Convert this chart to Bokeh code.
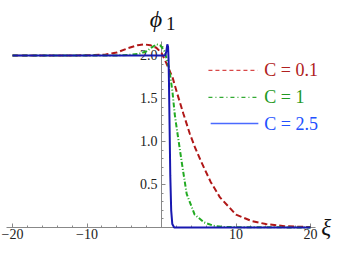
from bokeh.plotting import figure
from bokeh.models import LinearAxis, FixedTicker, Range1d
from bokeh.core.properties import value
from bokeh.embed import file_html
from bokeh.resources import INLINE

# ---- data ----
red_x = [-20, -12, -9, -7.5, -6, -4.5, -3.2, -2.4, -1.5, -0.7, 0, 0.6, 1.05, 1.5, 2.1,
         2.95, 3.8, 4.5, 5.3, 6.6, 7.85, 10.0, 12.1, 14.0, 16.5, 20]
red_y = [2.0, 2.0, 2.005, 2.012, 2.035, 2.085, 2.12, 2.13, 2.12, 2.09, 2.03, 1.92, 1.83,
         1.74, 1.56, 1.32, 1.09, 0.93, 0.77, 0.53, 0.35, 0.15, 0.075, 0.04, 0.015, 0.005]

green_x = [-20, -6, -4, -3, -2, -1.2, -0.66, -0.2, 0.1, 0.4, 0.7, 1.05, 1.47, 1.77, 2.1,
           2.75, 3.38, 4.45, 5.7, 7.0, 8.5, 20]
green_y = [2.0, 2.0, 2.01, 2.02, 2.05, 2.1, 2.13, 2.12, 2.09, 2.05, 1.96, 1.84, 1.58, 1.32,
           1.12, 0.74, 0.39, 0.15, 0.06, 0.02, 0.005, 0.0]

blue_x = [-20, 0.5, 0.65, 0.78, 0.88, 0.95, 1.0, 1.08, 1.18, 1.3, 1.45, 1.7, 20]
blue_y = [2.0, 2.0, 2.05, 2.13, 2.1, 1.95, 1.7, 1.2, 0.6, 0.2, 0.04, 0.0, 0.0]

legend_labels = ["C = 0.1", "C = 1", "C = 2.5"]

x_ticks = [-20, -10, 10, 20]
x_tick_labels = ["\u221220", "\u221210", "10", "20"]
x_minor = [v for v in range(-20, 21, 2) if v % 10 != 0]
y_ticks = [0.5, 1.0, 1.5, 2.0]
y_tick_labels = ["0.5", "1.0", "1.5", "2.0"]
y_minor = [round(0.1 * i, 1) for i in range(1, 22) if i % 5 != 0]

# ---- styles ----
RED, GREEN, BLUE = "#b01818", "#22aa22", "#1818b0"
SERIF = "Liberation Serif"

p = figure(width=338, height=241, x_range=Range1d(-21.611, 23.758),
           y_range=Range1d(-0.1628, 2.6395), output_backend="svg",
           toolbar_location=None, x_axis_location=None, y_axis_location=None,
           min_border=0, min_border_left=0, min_border_right=0,
           min_border_top=0, min_border_bottom=0)
p.outline_line_color = None
p.grid.visible = False
p.background_fill_color = "white"

def style_axis(ax):
    ax.axis_line_color = "#888888"
    ax.axis_line_width = 1
    ax.major_tick_line_color = "#888888"
    ax.minor_tick_line_color = "#888888"
    ax.major_tick_in = 4
    ax.major_tick_out = 0
    ax.minor_tick_in = 2
    ax.minor_tick_out = 0
    ax.major_label_text_font = SERIF
    ax.major_label_text_font_size = "14px"
    ax.major_label_text_color = "#222222"
    ax.level = "underlay"

xaxis = LinearAxis(fixed_location=0, bounds=(-20.8, 20.7),
                   ticker=FixedTicker(ticks=x_ticks, minor_ticks=x_minor),
                   major_label_overrides=dict(zip(x_ticks, x_tick_labels)))
style_axis(xaxis)
xaxis.major_label_standoff = 2
p.add_layout(xaxis, "below")

yaxis = LinearAxis(fixed_location=0, bounds=(0, 2.16),
                   ticker=FixedTicker(ticks=y_ticks, minor_ticks=y_minor),
                   major_label_overrides=dict(zip(y_ticks, y_tick_labels)))
style_axis(yaxis)
yaxis.major_label_standoff = 4
p.add_layout(yaxis, "left")

# curves
p.line(red_x, red_y, line_color=RED, line_width=2, line_dash="6 3")
p.line(green_x, green_y, line_color=GREEN, line_width=2, line_dash="5 2 1 2")
p.line(blue_x, blue_y, line_color=BLUE, line_width=2)

# legend (manual, coloured labels)
leg_y = [1.826, 1.512, 1.209]
p.line([6.3, 12.9], [leg_y[0]] * 2, line_color="#d84848", line_width=1.2, line_dash="4 3")
p.line([6.3, 12.9], [leg_y[1]] * 2, line_color="#33aa33", line_width=1.2, line_dash="4 3 1 3")
p.line([6.6, 13.0], [leg_y[2]] * 2, line_color="#4a6aff", line_width=1.3)
p.text(x=[13.8, 13.8, 13.8], y=leg_y, text=legend_labels,
       text_color=["#b02020", "#229922", "#2250ff"],
       text_font=value(SERIF), text_font_size=value("18px"),
       text_baseline="middle", text_align="left")

# axis titles
p.text(x=[-0.75], y=[2.42], text=["\u03d5"], text_font=value(SERIF),
       text_font_size=value("24px"), text_font_style="italic",
       text_align="center", text_baseline="middle", text_color="#111111")
p.text(x=[0.6], y=[2.375], text=["1"], text_font=value(SERIF),
       text_font_size=value("19px"), text_align="left",
       text_baseline="middle", text_color="#111111")
p.text(x=[22.1], y=[0.0], text=["\u03be"], text_font=value(SERIF),
       text_font_size=value("23px"), text_font_style="italic",
       text_align="center", text_baseline="middle", text_color="#111111")

open("out.html", "w").write(file_html(p, INLINE))
